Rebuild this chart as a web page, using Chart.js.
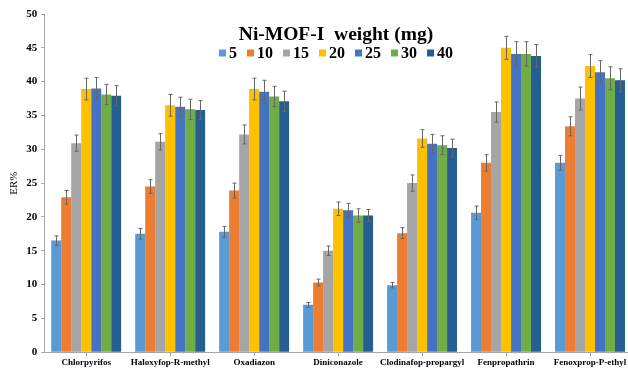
<!DOCTYPE html>
<html><head><meta charset="utf-8">
<style>
html,body{margin:0;padding:0;overflow:hidden;background:#fff;}
#wrap{position:relative;width:636px;height:369px;}
</style>
<script src="https://cdn.jsdelivr.net/npm/chart.js@4.4.1/dist/chart.umd.min.js"></script>
</head><body>
<div id="wrap"><canvas id="c"></canvas></div>
<script>
const categories = ['Chlorpyrifos','Haloxyfop-R-methyl','Oxadiazon','Diniconazole','Clodinafop-propargyl','Fenpropathrin','Fenoxprop-P-ethyl'];
const weights = ['5','10','15','20','25','30','40'];
const legendTitle = 'Ni-MOF-I  weight (mg)';
const yTicks = [0,5,10,15,20,25,30,35,40,45,50];

const er5  = [16.5, 17.5, 17.8,  7.0,  9.9, 20.6, 28.0];
const er10 = [22.9, 24.5, 23.9, 10.3, 17.6, 28.0, 33.4];
const er15 = [30.9, 31.1, 32.2, 15.0, 25.0, 35.5, 37.5];
const er20 = [38.9, 36.5, 38.9, 21.2, 31.6, 45.0, 42.3];
const er25 = [39.0, 36.3, 38.5, 21.0, 30.8, 44.1, 41.4];
const er30 = [38.1, 35.9, 37.8, 20.2, 30.6, 44.1, 40.5];
const er40 = [37.9, 35.8, 37.1, 20.2, 30.2, 43.8, 40.2];

const sd5  = [0.7, 0.8, 0.8, 0.35, 0.4, 1.0, 1.1];
const sd10 = [1.0, 1.0, 1.1, 0.5, 0.8, 1.2, 1.4];
const sd15 = [1.2, 1.2, 1.4, 0.7, 1.2, 1.5, 1.7];
const sd20 = [1.6, 1.6, 1.6, 1.0, 1.3, 1.7, 1.7];
const sd25 = [1.6, 1.4, 1.7, 1.0, 1.4, 1.8, 1.7];
const sd30 = [1.5, 1.5, 1.5, 1.0, 1.4, 1.8, 1.7];
const sd40 = [1.5, 1.4, 1.5, 0.9, 1.3, 1.7, 1.7];

const colors = ['#5B9BD5','#ED7D31','#A5A5A5','#FFC000','#4472C4','#70AD47','#255E91'];
const seriesValues = [er5, er10, er15, er20, er25, er30, er40];
const seriesErrors = [sd5, sd10, sd15, sd20, sd25, sd30, sd40];

const SERIF = '"Liberation Serif", "Times New Roman", serif';

const errorBars = {
  id: 'errorBars',
  afterDatasetsDraw(chart) {
    const ctx = chart.ctx, ys = chart.scales.y;
    ctx.save();
    ctx.strokeStyle = '#666666';
    ctx.lineWidth = 1;
    chart.data.datasets.forEach((ds, i) => {
      const meta = chart.getDatasetMeta(i);
      meta.data.forEach((bar, j) => {
        const v = ds.data[j], e = ds.errors[j];
        const x = Math.round(bar.x) + 0.5;
        const t = ys.getPixelForValue(v + e), b = ys.getPixelForValue(v - e);
        ctx.beginPath();
        ctx.moveTo(x, t); ctx.lineTo(x, b);
        ctx.moveTo(x - 2, t); ctx.lineTo(x + 2, t);
        ctx.moveTo(x - 2, b); ctx.lineTo(x + 2, b);
        ctx.stroke();
      });
    });
    ctx.restore();
  }
};

const overlayLegend = {
  id: 'overlayLegend',
  afterDraw(chart) {
    const ctx = chart.ctx;
    const cx = 336;
    ctx.save();
    ctx.fillStyle = '#000';
    ctx.textBaseline = 'middle';
    ctx.textAlign = 'center';
    ctx.font = 'bold 19.5px ' + SERIF;
    ctx.fillText(legendTitle, cx, 35);
    ctx.font = 'bold 16px ' + SERIF;
    ctx.textAlign = 'left';
    const box = 7, gap = 3, sep = 10;
    let total = 0;
    const ws = weights.map(w => ctx.measureText(w).width);
    ws.forEach(w => total += box + gap + w);
    total += sep * (weights.length - 1);
    let x = cx - total / 2;
    const y = 53;
    weights.forEach((w, i) => {
      ctx.fillStyle = colors[i];
      ctx.fillRect(x, y - box / 2, box, box);
      x += box + gap;
      ctx.fillStyle = '#000';
      ctx.fillText(w, x, y + 1);
      x += ws[i] + sep;
    });
    ctx.restore();
  }
};

new Chart(document.getElementById('c'), {
  type: 'bar',
  data: {
    labels: categories,
    datasets: weights.map((w, i) => ({
      label: w,
      data: seriesValues[i],
      errors: seriesErrors[i],
      backgroundColor: colors[i],
      borderWidth: 0,
      barPercentage: 1.0,
      categoryPercentage: 0.833
    }))
  },
  options: {
    responsive: true,
    maintainAspectRatio: false,
    animation: false,
    layout: { padding: { left: 6, right: 4, top: 14, bottom: 0 } },
    plugins: {
      legend: { display: false },
      tooltip: { enabled: false }
    },
    scales: {
      x: {
        grid: { offset: false, drawOnChartArea: false, drawTicks: true, tickLength: 4, color: '#A6A6A6' },
        border: { display: true, color: '#A6A6A6' },
        ticks: { color: '#000', padding: 1, maxRotation: 0, autoSkip: false, font: { family: SERIF, size: 9, weight: 'bold' } }
      },
      y: {
        min: 0, max: 50,
        afterBuildTicks(scale) { scale.ticks = yTicks.map(v => ({ value: v })); },
        grid: { drawOnChartArea: false, drawTicks: true, tickLength: 3, color: '#A6A6A6' },
        border: { display: true, color: '#A6A6A6' },
        ticks: { color: '#000', padding: 4, font: { family: SERIF, size: 11, weight: 'bold' } },
        title: { display: true, text: 'ER%', color: '#000', padding: { top: 2, bottom: 1 }, font: { family: SERIF, size: 11 } }
      }
    }
  },
  plugins: [errorBars, overlayLegend]
});
</script>
</body></html>
